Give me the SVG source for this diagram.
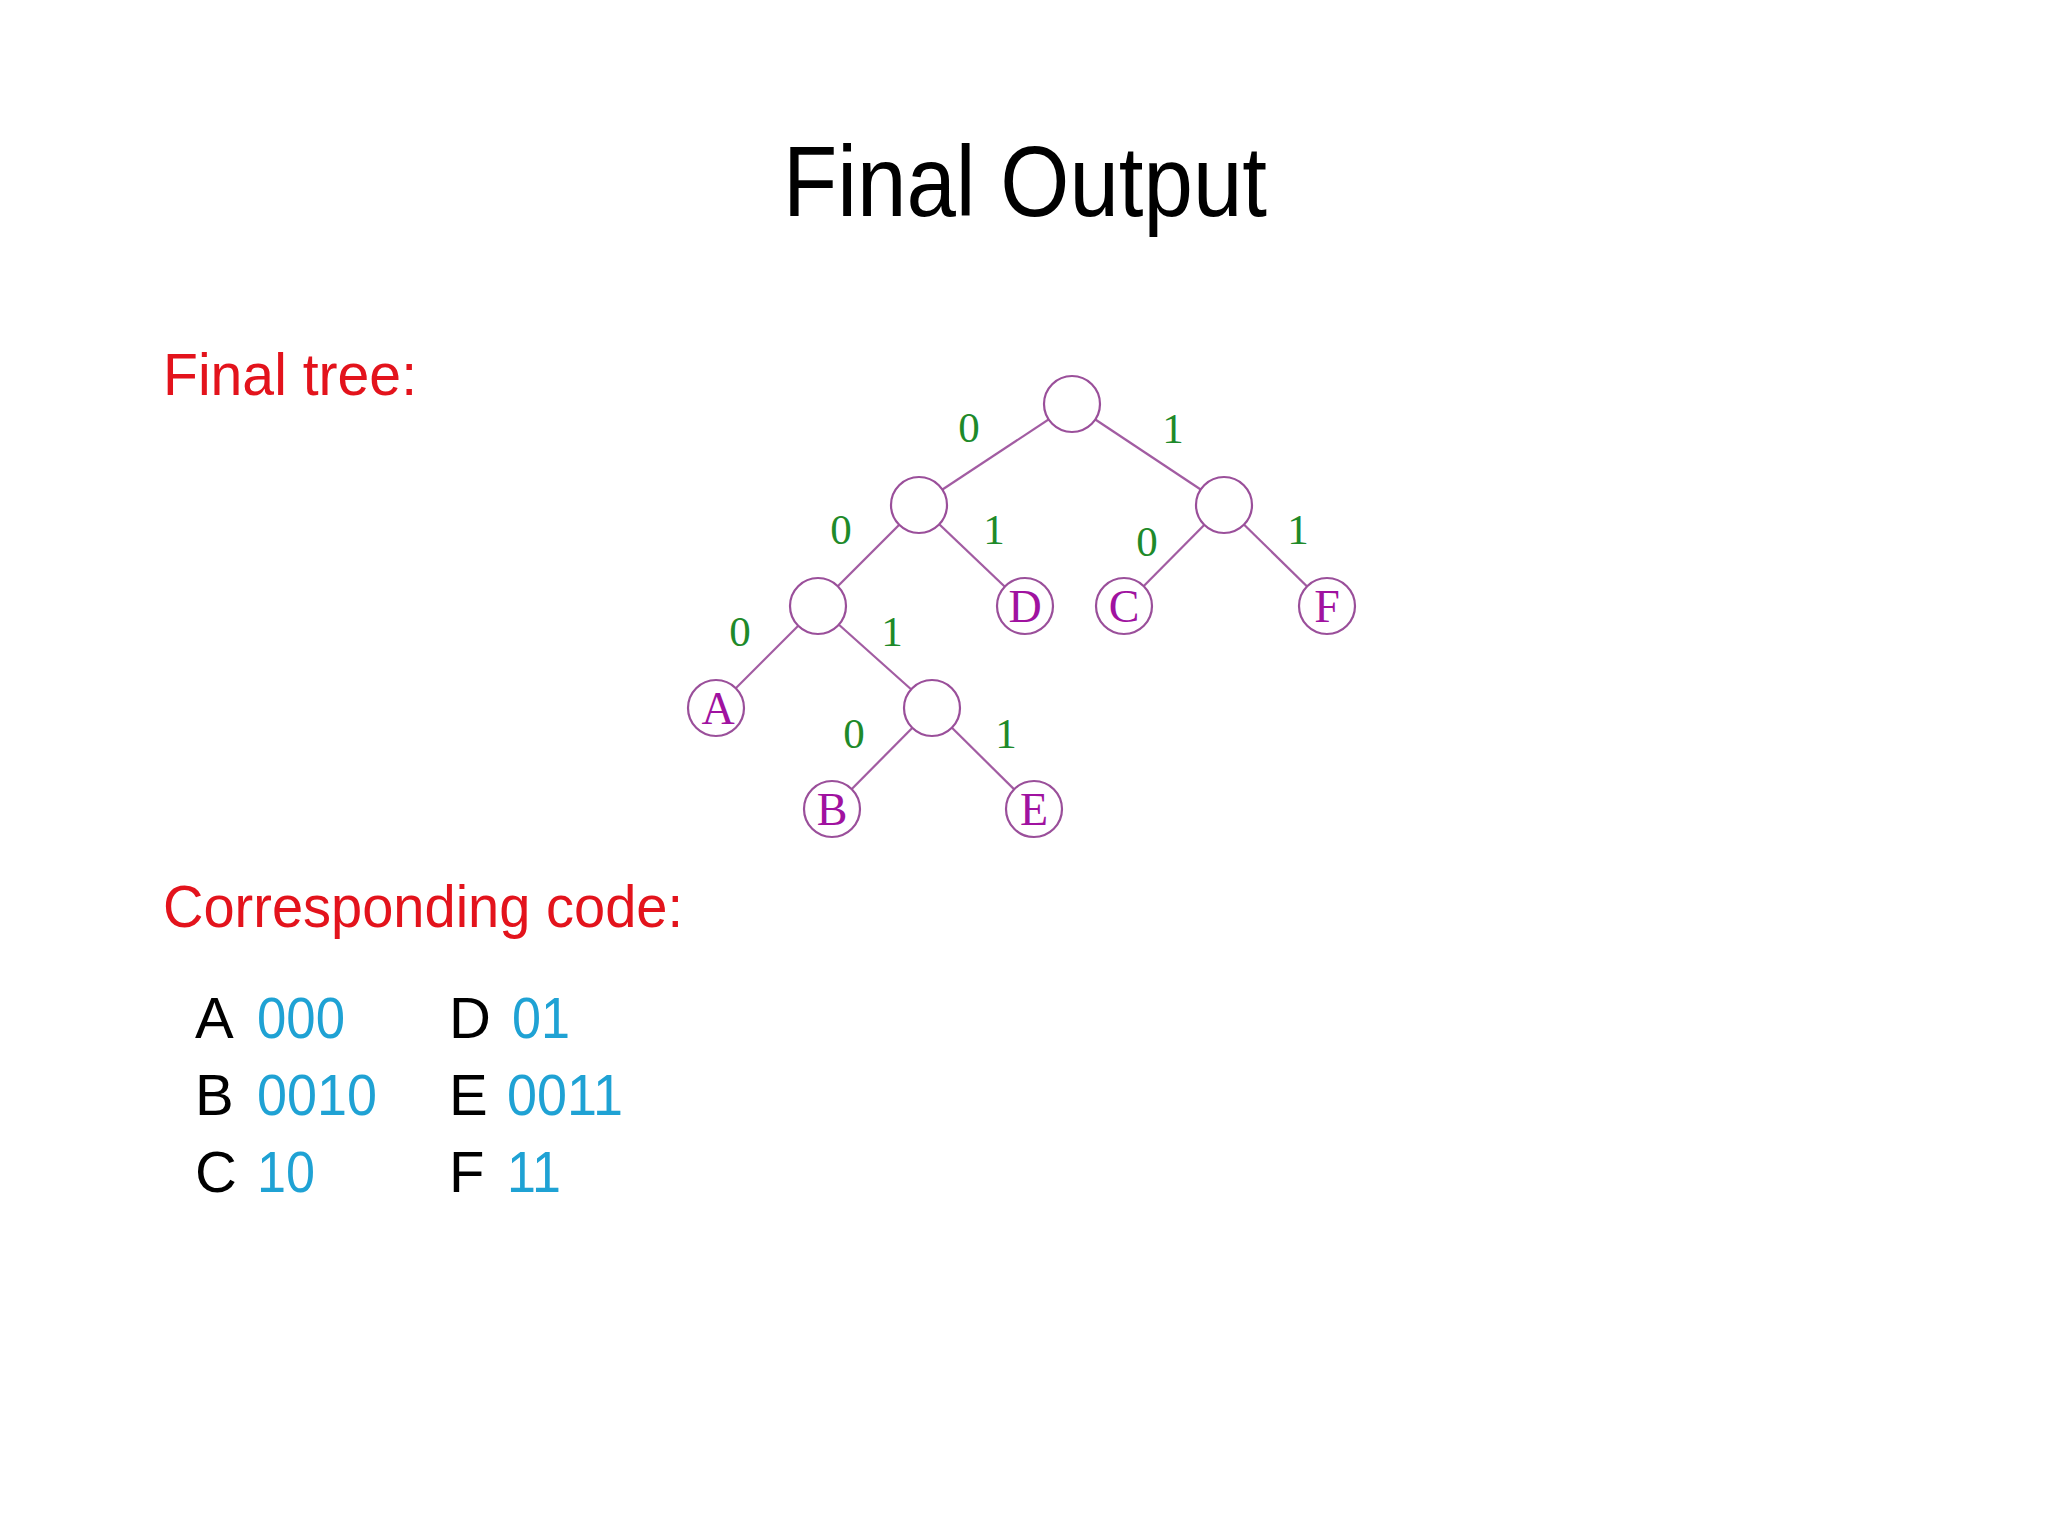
<svg xmlns="http://www.w3.org/2000/svg" width="2048" height="1536" viewBox="0 0 2048 1536">
<style>
.title{font-family:"Liberation Sans",Arial,sans-serif;font-size:100px;fill:#000}
.head{font-family:"Liberation Sans",Arial,sans-serif;font-size:60px;fill:#e3131c}
.sym{font-family:"Liberation Sans",Arial,sans-serif;font-size:58px;fill:#000}
.code{font-family:"Liberation Sans",Arial,sans-serif;font-size:58px;fill:#1fa2d4}
.edge{stroke:#a25ca2;stroke-width:2.2;fill:none}
.node{fill:#fff;stroke:#9a4f9a;stroke-width:2.2}
.lbl{font-family:"Liberation Serif","Times New Roman",serif;font-size:46px;fill:#a012a0;text-anchor:middle}
.bit{font-family:"Liberation Serif","Times New Roman",serif;font-size:43px;fill:#1e8a2a;text-anchor:middle}
</style>
<rect width="2048" height="1536" fill="#fff"/>
<text class="title" x="783" y="216" textLength="484" lengthAdjust="spacingAndGlyphs">Final Output</text>
<text class="head" x="163" y="395" textLength="254" lengthAdjust="spacingAndGlyphs">Final tree:</text>
<text class="head" x="163" y="927" textLength="520" lengthAdjust="spacingAndGlyphs">Corresponding code:</text>

<g id="codes">
<text class="sym" x="195" y="1038">A</text><text class="code" x="257" y="1038" textLength="88" lengthAdjust="spacingAndGlyphs">000</text>
<text class="sym" x="195" y="1115">B</text><text class="code" x="257" y="1115" textLength="120" lengthAdjust="spacingAndGlyphs">0010</text>
<text class="sym" x="195" y="1192">C</text><text class="code" x="257" y="1192" textLength="58" lengthAdjust="spacingAndGlyphs">10</text>
<text class="sym" x="449" y="1038">D</text><text class="code" x="512" y="1038" textLength="58" lengthAdjust="spacingAndGlyphs">01</text>
<text class="sym" x="449" y="1115">E</text><text class="code" x="507" y="1115" textLength="116" lengthAdjust="spacingAndGlyphs">0011</text>
<text class="sym" x="449" y="1192">F</text><text class="code" x="507" y="1192" textLength="54" lengthAdjust="spacingAndGlyphs">11</text>
</g>

<g id="connectors">
<line class="edge" x1="1072" y1="404" x2="919" y2="505"/>
<line class="edge" x1="1072" y1="404" x2="1224" y2="505"/>
<line class="edge" x1="919" y1="505" x2="818" y2="606"/>
<line class="edge" x1="919" y1="505" x2="1025" y2="606"/>
<line class="edge" x1="1224" y1="505" x2="1124" y2="606"/>
<line class="edge" x1="1224" y1="505" x2="1327" y2="606"/>
<line class="edge" x1="818" y1="606" x2="716" y2="708"/>
<line class="edge" x1="818" y1="606" x2="932" y2="708"/>
<line class="edge" x1="932" y1="708" x2="832" y2="809"/>
<line class="edge" x1="932" y1="708" x2="1034" y2="809"/>
<text class="bit" x="969" y="442">0</text>
<text class="bit" x="1173" y="443">1</text>
<text class="bit" x="841" y="544">0</text>
<text class="bit" x="994" y="544">1</text>
<text class="bit" x="1147" y="556">0</text>
<text class="bit" x="1298" y="544">1</text>
<text class="bit" x="740" y="646">0</text>
<text class="bit" x="892" y="646">1</text>
<text class="bit" x="854" y="748">0</text>
<text class="bit" x="1006" y="748">1</text>
</g>

<g id="n-root"><circle class="node" cx="1072" cy="404" r="28"/></g>
<g id="n-0"><circle class="node" cx="919" cy="505" r="28"/></g>
<g id="n-1"><circle class="node" cx="1224" cy="505" r="28"/></g>
<g id="n-00"><circle class="node" cx="818" cy="606" r="28"/></g>
<g id="n-D"><circle class="node" cx="1025" cy="606" r="28"/><text class="lbl" x="1025" y="622">D</text></g>
<g id="n-C"><circle class="node" cx="1124" cy="606" r="28"/><text class="lbl" x="1124" y="622">C</text></g>
<g id="n-F"><circle class="node" cx="1327" cy="606" r="28"/><text class="lbl" x="1327" y="622">F</text></g>
<g id="n-A"><circle class="node" cx="716" cy="708" r="28"/><text class="lbl" x="718" y="724">A</text></g>
<g id="n-001"><circle class="node" cx="932" cy="708" r="28"/></g>
<g id="n-B"><circle class="node" cx="832" cy="809" r="28"/><text class="lbl" x="832" y="825">B</text></g>
<g id="n-E"><circle class="node" cx="1034" cy="809" r="28"/><text class="lbl" x="1034" y="825">E</text></g>
</svg>
